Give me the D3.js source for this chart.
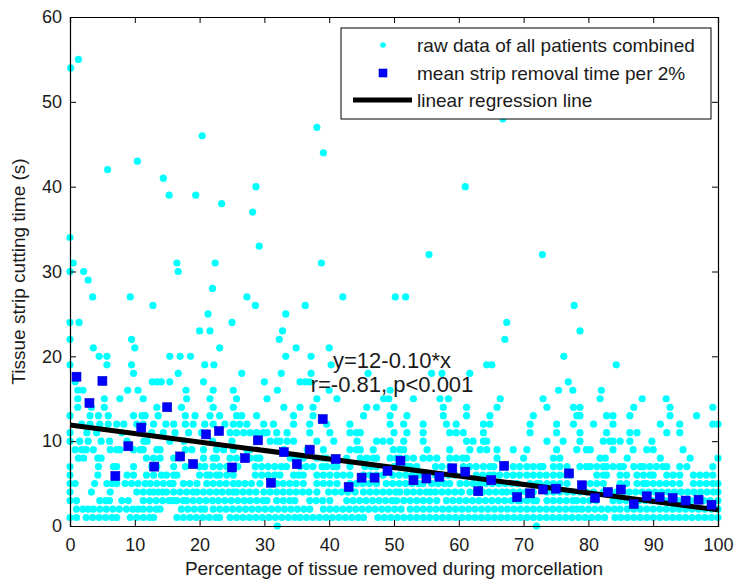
<!DOCTYPE html>
<html>
<head>
<meta charset="utf-8">
<script src="https://cdn.jsdelivr.net/npm/d3@7"></script>
<style>
  body { margin: 0; background: #fff; }
  text { font-family: "Liberation Sans", Arial, sans-serif; fill: #1a1a1a; }
</style>
</head>
<body>
<div id="chart"></div>
<script>
// raw data: each row is one cutting time (s), with the tissue % values at that time
const rawRowY = [0, 1, 2, 3, 4, 5, 6, 7, 8, 9, 10, 11, 12, 13, 14, 15, 16, 17, 18, 19, 20,
  21, 22, 23, 24, 25, 26, 27, 28, 29, 30, 31, 32, 33, 34, 37, 38, 39, 40, 41, 42, 43, 44, 46, 47, 48, 54, 55]
const rawRowX = [
  [32, 72],
  [0,1,2.5,3.5,4.5,5.5,6.5,7.2,9.3,10.3,11.3,12.3,12.9,16.5,17.5,18.5,19.5,20.5,21.5,22.5,23.1,24.7,25.7,26.7,27.7,28.7,29.7,30.7,31.7,32.7,33.7,34.7,35.5,36.5,37.5,38.5,39.5,40.5,41.5,42.5,43.5,44.5,45.3,47.5,48.5,49.5,50.5,51.5,52.5,53.5,54.5,55.5,56.5,57.5,58.5,59.5,60.5,61.5,62.5,63.5,64.5,65.5,66.5,67.5,68.5,69.5,70.5,71.5,72.5,73.5,74.5,75.5,76.5,77.5,78.5,79.5,80.5,81.5,82.5,84.1,85,86,87,88,89,90,91,92,93,94,95,96,97,98,99,100],
  [1,2,2.8,3.6,4.6,5.6,6.6,7.6,8.7,9.7,10.5,11.3,12.3,13.3,13.9,17.2,18.2,19.2,20.2,20.8,22.1,23.1,24.1,25.1,26.1,27.1,28.1,29.1,30.1,31.1,32.1,33.1,34.1,35.1,36.1,37,39.1,40.1,41.1,42.1,43.1,44.1,45.1,46.1,47.1,48.1,49.1,50.1,51.1,52.5,53.5,54.5,55.5,56.5,57.5,58.5,59.5,60.5,61.5,62.5,63.5,64.5,65.5,66.5,67.5,68.5,69.5,70.5,71.5,72.5,73.5,74.5,75.5,76.5,77.5,78.2,79,80,81,82,83,84,84.9,86,87,88,89,90,91,92,93,94,95,96,97,98,99,100],
  [0,1,4.6,5.5,6.1,8,9,11.3,12.3,13.3,14.3,15.3,15.9,16.5,17.5,18,19,20,21,22,22.9,23.9,24.9,25.9,26.9,27.8,28.8,29.8,30.4,31.9,32.9,33.9,34.7,37,38,39,40.1,42.7,43.7,44.7,45.7,46.7,47.7,48.7,49.7,50.4,51.5,52.5,53.5,54.5,55.5,56.6,58.1,59.1,60.1,61.1,62.1,63.1,64.1,65.1,66.1,67.1,68.1,69.1,69.5,70.5,71.5,72,73.6,74.6,75.6,76.6,77.6,78.2,79.2,80.2,81.2,83.8,84.8,85.8,86.8,87.8,88.8,89.8,90.8,91.8,92.8,93.8,94.8,95.8,96.8,97.8,98.8,100],
  [0,3.3,6.2,10.3,11.3,12.3,12.9,13.6,14.3,14.9,16,17,18,19,19.6,20.6,21.6,22.6,23.5,24.5,25.2,25.7,26.7,27.7,28.7,29.9,30.9,31.9,32.9,33.9,34.9,35.9,36.9,38.1,39.9,40.9,41.9,42.9,44,45.3,46.3,47.3,48.3,49.3,50.3,50.9,52,53,54,55,55.6,56.4,57.4,58.4,59.4,60.4,61.7,62.7,63.7,64.7,65.7,66.7,67.4,68.4,69.4,70.4,71.5,73.6,74.6,75.6,76.7,77.7,78.7,79.7,80.8,82.3,83.3,84.3,85.3,86.3,87.3,88.3,89.3,90.3,91.3,92.3,93.3,94.3,95.3,96.3,97.3,98.3,99.3,100],
  [0,0.8,3.8,5.7,6.5,7.2,8.5,9.5,10.5,11.6,12.4,13.4,14.4,15.4,15.9,17.5,18.5,19.6,21.1,22.1,23.1,24.1,25.2,26,27,28,29.3,30.9,31.9,32.9,33.9,34.9,36,38.1,39.1,40.1,41.2,43.2,44.2,45.2,46.2,47.3,48.8,49.8,50.8,51.8,52.8,53.8,54.5,55.8,56.8,57.8,58.6,60.2,61.2,62.2,63.2,64.2,65.2,66.2,67.2,68.2,69,71,72,72.5,73.6,74.6,75.6,76.7,80.3,81.3,82.3,84.9,85.9,87.5,88.5,89,90,91,92,93,94.1,96.2,97.2,98.2,99.2,100],
  [0,4.3,8.8,9.8,11.8,12.9,14.1,14.9,16,16.5,20,21.1,21.6,22.6,23.1,24.2,25.2,28.6,29.6,30.6,31.6,32.4,34.5,35.3,36,38.1,39.1,40.1,41.2,42.2,43.2,45.3,46.3,47.3,48.3,49.8,50.8,51.8,52.8,53.8,55,56.4,57.4,58.4,59.4,60.7,62.7,63.7,64.7,65.4,66.3,67.4,68.4,69.4,70.5,71.5,72.5,73.5,74.6,75.6,76.6,77.2,81.3,82.3,82.8,84.9,85.9,87.5,88.5,89.5,90,92.1,93.1,94.1,96.2,97.2,98.2,99.2],
  [0,4.4,6.7,7.2,9.8,12.6,13.4,16,17.8,20,20.8,22.1,23.1,24.2,25.9,28.6,29.6,30.6,31.6,32.6,33.4,35.5,36.5,37.5,38.9,39.6,40.6,41.2,43.2,45.5,46.5,47.3,50,51,52,52.5,53.5,56.4,57.4,58.6,60.7,61.7,62.7,63.8,64.8,65.4,68.4,69.4,70.5,71.5,72.5,73,74.6,75.6,76.7,78.7,79.7,80.3,81.3,82.3,82.8,83.8,84.8,85.4,87,88,88.5,89.5,90.5,91.5,92.1,94.1,95.2,99.2],
  [1.3,2.1,4.3,4.8,11.8,12.9,13.9,16,17,20.6,22.1,22.6,24.7,25.7,27.8,28.8,29.3,34,35,36,38.1,39.1,39.6,42.7,44.8,45.8,46.8,47.3,49.4,50.4,50.9,51.9,53,54.5,55.5,56.6,58.6,59.6,60.6,61.2,65.9,70,74.6,75.6,81.8,82.6,86,91.1,95.7,100],
  [0.8,1.8,2.5,3.6,6.2,7.2,7.7,9.8,10.8,11.3,13.4,13.9,17.8,18.8,20.6,22.6,23.7,25.2,27.3,27.8,33,36.6,39.1,43.2,44.2,44.8,46.8,49.9,50.9,51.5,55.1,58.6,61.7,63.3,64.3,65.9,68.4,70.5,75.1,78.2,79.7,80.3,83.8,86.9,89,90,94.6],
  [0,1.5,2.8,4.8,6.1,8.8,11.4,11.9,15.4,17.6,22,25,28.8,30.9,31.9,32.4,33.5,34.5,38.1,40.7,44.3,47.3,48.3,49.4,51.5,54.5,61.2,62.2,63.8,64.3,73.6,76.1,78.7,82.3,83.3,83.8,84.9,86.4,89.8],
  [0,2.6,4.1,8,11.1,12.6,14.4,16.2,18.3,20.3,24.7,25.7,26.8,27.8,28.8,29.8,30.4,31.9,33.5,37,40.1,43.2,44.2,44.8,50,52,54.5,58.6,59.6,60.7,63.8,71,75.1,78.7,82.8,86.4,87.5,92.1,94.1],
  [1.8,3.1,4.6,5.9,7.2,8.3,10.3,11.3,12.9,14.8,16,17.8,19,20.8,22.1,23.9,25.2,26.2,27.3,29.9,31.4,34.5,37,39.6,43.2,49.4,51.5,54.5,58.1,59.6,63.8,64.8,71,75.1,77.7,80.8,83.8,91.1,94.1,99.2,100],
  [0,3.1,4.4,5.9,9.8,11.1,11.6,13.6,17.8,19.3,21.6,23.1,25.7,26.5,28.8,34.5,37.5,45.3,49.4,52,57.6,61.2,64.8,71.5,78.2,78.7,82.8,83.8,86.4,92.6,96.7],
  [1.2,3.3,5.3,13.4,17.2,22.1,25.2,33,35.5,37.5,45.8,47.3,50,57.6,61.2,65.9,73.6,77.7,78.7,87,92.6,99.2],
  [1.2,5.3,7.7,11.3,18,21.6,25.7,30.4,38.1,41.2,48.4,49.2,53,57.1,58.4,66.4,73,81.8,88.3,92],
  [1.2,2,8.9,10.5,17.9,22.1,25.2,32,40,49.4,75.4,77.6,82],
  [0.8,12.7,13.4,14.1,15.4,20.6,30,35.5,36.3,37,76.9],
  [9.8,16.7,26.5,32.6,37.2,46,55.8,57.4,61.7],
  [0,5.7,9.5,20.8,22.2,40.3,64.3,65.1,84.3],
  [4.5,5.7,15.4,17,18.6,33.3,37.2,76.2],
  [3.6,10,23.1,34.9,40],
  [0,9.5,32.3,67.1],
  [20,21.6,32.8,78.7],
  [0,1.4,25,67.4],
  [21.3,33.3],
  [12.8,28.6,36.3,77.8],
  [3.5,9.3,27.3,42.1,50.2,51.8],
  [22],
  [2.8],
  [0,2.1,16.7],
  [0.5,16.5,22.4,38.8],
  [55.4,72.9],
  [29.2],
  [0],
  [28.2],
  [23.4],
  [15.3,19.4],
  [28.7,61],
  [14.4],
  [5.8],
  [10.4],
  [39.1],
  [20.4],
  [38.1],
  [66.8],
  [0.1],
  [1.3]
]

// mean strip removal time per 2% bin
const meanX = [1,3,5,7,9,11,13,15,17,19,21,23,25,27,29,31,33,35,37,39,41,43,45,47,49,
  51,53,55,57,59,61,63,65,67,69,71,73,75,77,79,81,83,85,87,89,91,93,95,97,99]
const meanY = [17.6,14.5,17.1,5.9,9.4,11.6,7.0,14.0,8.2,7.3,10.8,11.2,6.9,8.0,10.1,5.1,8.7,7.3,9.0,12.6,
  7.9,4.6,5.7,5.7,6.5,7.7,5.4,5.6,5.8,6.8,6.4,4.1,5.4,7.1,3.4,3.85,4.3,4.4,6.2,4.8,
  3.3,4.0,4.3,2.6,3.5,3.4,3.3,3.0,3.1,2.5]

// regression line end points
const regX = [0, 100]
const regY = [11.9, 1.9]

const xTicks = [0, 10, 20, 30, 40, 50, 60, 70, 80, 90, 100]
const yTicks = [0, 10, 20, 30, 40, 50, 60]
const legendLabels = ["raw data of all patients combined", "mean strip removal time per 2%", "linear regression line"]

let width = 734, height = 580
let mLeft = 70, mRight = 718, mTop = 17, mBottom = 526

let svg = d3.select("#chart").append("svg")
    .attr("width", width)
    .attr("height", height)

let x = d3.scaleLinear([0, 100], [mLeft, mRight])
let y = d3.scaleLinear([0, 60], [mBottom, mTop])

let raw = []
rawRowY.forEach((yy, i) => {
    rawRowX[i].forEach(xx => raw.push({ x: xx, y: yy }))
})

svg.append("defs").append("clipPath").attr("id", "clip")
    .append("rect").attr("x", mLeft - 4).attr("y", mTop).attr("width", mRight - mLeft + 8).attr("height", mBottom - mTop + 4)

let plot = svg.append("g").attr("clip-path", "url(#clip)")

plot.append("g")
    .selectAll("circle")
    .data(raw)
    .join("circle")
    .attr("cx", d => x(d.x))
    .attr("cy", d => y(d.y))
    .attr("r", 3.6)
    .attr("fill", "#00ffff")

plot.append("line")
    .attr("x1", x(regX[0])).attr("y1", y(regY[0]))
    .attr("x2", x(regX[1])).attr("y2", y(regY[1]))
    .attr("stroke", "#000")
    .attr("stroke-width", 5)

let sq = 9
plot.append("g")
    .selectAll("rect")
    .data(meanX.map((d, i) => ({ x: d, y: meanY[i] })))
    .join("rect")
    .attr("x", d => x(d.x) - sq / 2)
    .attr("y", d => y(d.y) - sq / 2)
    .attr("width", sq)
    .attr("height", sq)
    .attr("fill", "#0000ff")
    .attr("stroke", "#0000c8")
    .attr("stroke-width", 0.6)

// axes (ticks point inward, on all four sides)
let tickLen = 6
svg.append("g").attr("transform", `translate(0,${mBottom})`)
    .call(d3.axisBottom(x).tickValues(xTicks).tickSize(-tickLen).tickPadding(12).tickFormat(d3.format("d")))
svg.append("g").attr("transform", `translate(0,${mTop})`)
    .call(d3.axisTop(x).tickValues(xTicks).tickSize(-tickLen).tickFormat(""))
svg.append("g").attr("transform", `translate(${mLeft},0)`)
    .call(d3.axisLeft(y).tickValues(yTicks).tickSize(-tickLen).tickPadding(8).tickFormat(d3.format("d")))
svg.append("g").attr("transform", `translate(${mRight},0)`)
    .call(d3.axisRight(y).tickValues(yTicks).tickSize(-tickLen).tickFormat(""))

svg.selectAll(".domain").attr("stroke", "#000").attr("stroke-width", 1.2)
svg.selectAll(".tick line").attr("stroke", "#000")
svg.selectAll(".tick text")
    .style("font-family", "'Liberation Sans', Arial, sans-serif")
    .style("font-size", "18px")
    .attr("fill", "#1a1a1a")

// axis labels
svg.append("text")
    .attr("x", (mLeft + mRight) / 2)
    .attr("y", 575)
    .attr("text-anchor", "middle")
    .style("font-size", "19px")
    .text("Percentage of tissue removed during morcellation")

svg.append("text")
    .attr("transform", `translate(25,${(mTop + mBottom) / 2}) rotate(-90)`)
    .attr("text-anchor", "middle")
    .style("font-size", "19px")
    .text("Tissue strip cutting time (s)")

// regression annotation
svg.append("text")
    .attr("x", 392).attr("y", 368)
    .attr("text-anchor", "middle")
    .style("font-size", "22px")
    .text("y=12-0.10*x")
svg.append("text")
    .attr("x", 392).attr("y", 392)
    .attr("text-anchor", "middle")
    .style("font-size", "22px")
    .text("r=-0.81, p<0.001")

// legend
let lg = svg.append("g")
lg.append("rect")
    .attr("x", 341).attr("y", 28)
    .attr("width", 370).attr("height", 91)
    .attr("fill", "#fff")
    .attr("stroke", "#000")
    .attr("stroke-width", 1)

let rowY = [45, 73, 100]
lg.append("circle").attr("cx", 383).attr("cy", rowY[0]).attr("r", 2.8).attr("fill", "#00ffff")
lg.append("rect").attr("x", 379).attr("y", rowY[1] - 4).attr("width", 8).attr("height", 8)
    .attr("fill", "#0000ff").attr("stroke", "#0000c8").attr("stroke-width", 0.6)
lg.append("line").attr("x1", 353).attr("x2", 412).attr("y1", rowY[2]).attr("y2", rowY[2])
    .attr("stroke", "#000").attr("stroke-width", 5)

lg.selectAll("text.lab")
    .data(legendLabels)
    .join("text")
    .attr("class", "lab")
    .attr("x", 417)
    .attr("y", (d, i) => rowY[i] + 7)
    .style("font-size", "19px")
    .text(d => d)
</script>
</body>
</html>
